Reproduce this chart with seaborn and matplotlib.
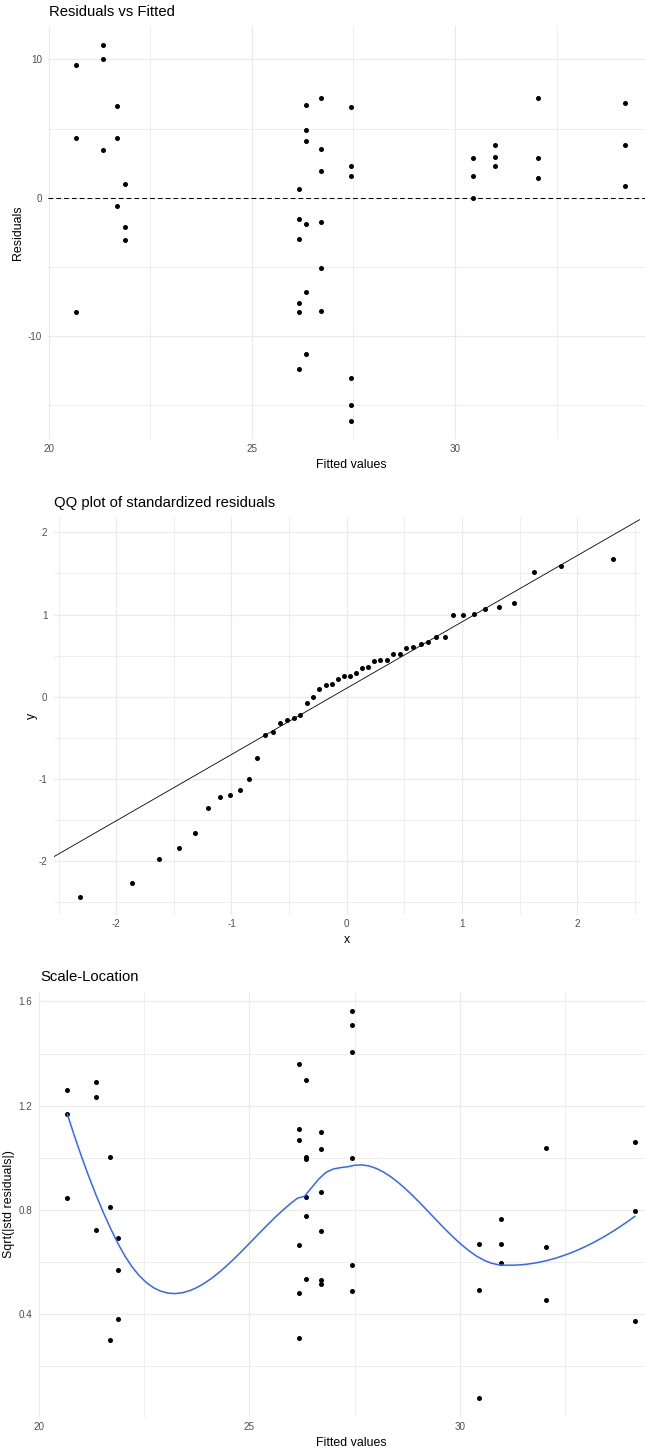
import numpy as np
import pandas as pd
import matplotlib
matplotlib.use("Agg")
import matplotlib.pyplot as plt
import seaborn as sns
from statistics import NormalDist

# ---------------- data ----------------
fitted = [20.67, 20.67, 20.67,
          21.35, 21.35, 21.35,
          21.69, 21.69, 21.69,
          21.87, 21.87, 21.87,
          26.17, 26.17, 26.17, 26.17, 26.17, 26.17,
          26.34, 26.34, 26.34, 26.34, 26.34, 26.34,
          26.71, 26.71, 26.71, 26.71, 26.71, 26.71,
          27.43, 27.43, 27.43, 27.43, 27.43, 27.43,
          30.45, 30.45, 30.45,
          30.98, 30.98, 30.98,
          32.05, 32.05, 32.05,
          34.17, 34.17, 34.17]

residuals = [9.62, 4.34, -8.26,
             11.06, 10.05, 3.45,
             6.63, 4.34, -0.60,
             0.97, -2.10, -3.08,
             0.65, -1.54, -2.96, -7.64, -8.26, -12.36,
             6.68, 4.90, 4.08, -1.90, -6.84, -11.30,
             7.19, 3.52, 1.91, -1.78, -5.08, -8.19,
             6.56, 2.27, 1.59, -13.02, -15.01, -16.12,
             2.89, 1.59, -0.05,
             3.83, 2.94, 2.31,
             7.19, 2.89, 1.40,
             6.82, 3.83, 0.82]

sqrt_std_resid = [1.259, 0.844, 1.166,
                  1.290, 1.233, 0.721,
                  1.003, 0.809, 0.300,
                  0.380, 0.567, 0.691,
                  0.309, 0.479, 0.663, 1.068, 1.109, 1.358,
                  0.995, 0.848, 0.775, 0.534, 1.003, 1.297,
                  1.032, 0.718, 0.530, 0.515, 0.868, 1.098,
                  0.997, 0.589, 0.489, 1.405, 1.508, 1.562,
                  0.667, 0.493, 0.078,
                  0.765, 0.667, 0.595,
                  1.038, 0.657, 0.452,
                  1.061, 0.796, 0.372]

qq_sample = [-2.43, -2.27, -1.97, -1.84, -1.66, -1.35, -1.22, -1.20, -1.13, -1.00,
             -0.75, -0.47, -0.43, -0.32, -0.28, -0.26, -0.22, -0.08, 0.00, 0.10,
             0.14, 0.15, 0.21, 0.25, 0.25, 0.29, 0.35, 0.36, 0.44, 0.45,
             0.45, 0.52, 0.52, 0.59, 0.60, 0.64, 0.67, 0.73, 0.73, 0.99,
             1.00, 1.01, 1.07, 1.09, 1.14, 1.52, 1.59, 1.67]

fitted_ticks = [20, 25, 30]
resid_ticks = [-10, 0, 10]
qq_ticks = [-2, -1, 0, 1, 2]
scale_ticks = [0.4, 0.8, 1.2, 1.6]

titles = ["Residuals vs Fitted", "QQ plot of standardized residuals", "Scale-Location"]

# ---------------- style ----------------
sns.set_theme(style="white")
plt.rcParams["font.family"] = ["Liberation Sans", "DejaVu Sans"]

W, H = 645, 1454
fig = plt.figure(figsize=(W / 100, H / 100), dpi=100)
fig.patch.set_facecolor("white")

GRID = "#EBEBEB"
TICKC = "#4D4D4D"
TICK_FS = 7.1
LAB_FS = 8.9
TITLE_FS = 10.7


def expand(lo, hi, f=0.05):
    r = hi - lo
    return lo - f * r, hi + f * r


def add_axes_px(left, top, width, bottom):
    return fig.add_axes([left / W, 1 - bottom / H, width / W, (bottom - top) / H])


def style_axes(ax, xmajor, ymajor, xminor, yminor, xlabels, ylabels):
    for s in ax.spines.values():
        s.set_visible(False)
    ax.set_facecolor("white")
    ax.set_xticks(xmajor)
    ax.set_yticks(ymajor)
    ax.set_xticks(xminor, minor=True)
    ax.set_yticks(yminor, minor=True)
    ax.set_xticklabels(xlabels)
    ax.set_yticklabels(ylabels)
    ax.grid(True, which="major", color=GRID, lw=0.9, zorder=0)
    ax.grid(True, which="minor", color=GRID, lw=0.6, zorder=0)
    ax.set_axisbelow(True)
    ax.tick_params(which="both", length=0, labelsize=TICK_FS, labelcolor=TICKC)
    ax.tick_params(axis="y", pad=4.6)
    ax.tick_params(axis="x", pad=3.2)


def minors(major, lo, hi):
    step = major[1] - major[0]
    m = np.arange(major[0] - step / 2 - 10 * step, major[-1] + 10 * step, step)
    return [v for v in m if lo <= v <= hi]


def fmt(v):
    return "%g" % v


fx = np.array(fitted)
rs = np.array(residuals)
ss = np.array(sqrt_std_resid)
qs = np.array(qq_sample)

# ---------------- panel 1: residuals vs fitted ----------------
ax1 = add_axes_px(48.3, 25.9, 603.7, 439.4)
df1 = pd.DataFrame({"Fitted values": fx, "Residuals": rs})
ax1.axhline(0, color="black", lw=0.75, ls=(0, (4.5, 3)), zorder=2)
sns.scatterplot(data=df1, x="Fitted values", y="Residuals", ax=ax1, color="black",
                s=13, linewidth=0, zorder=3)
xl1 = expand(fx.min(), fx.max())
yl1 = expand(rs.min(), rs.max())
ax1.set_xlim(xl1)
ax1.set_ylim(yl1)
style_axes(ax1, fitted_ticks, resid_ticks, minors(fitted_ticks, *xl1), minors(resid_ticks, *yl1),
           [fmt(v) for v in fitted_ticks], [fmt(v) for v in resid_ticks])
ax1.set_xlabel("Fitted values", fontsize=LAB_FS, color="black")
ax1.set_ylabel("Residuals", fontsize=LAB_FS, color="black")
ax1.xaxis.set_label_coords((351 - 48.3) / 603.7, -(465 - 439.4) / 413.5)
ax1.xaxis.label.set_va("center")
ax1.yaxis.set_label_coords(-(48.3 - 18.3) / 603.7, 0.5)
ax1.yaxis.label.set_va("center")
fig.text(48.7 / W, 1 - 12.0 / H, titles[0], fontsize=TITLE_FS, ha="left", va="center", color="black")

# ---------------- panel 2: QQ plot ----------------
n = len(qs)
nd = NormalDist()
theo = np.array([nd.inv_cdf((i - 0.5) / n) for i in range(1, n + 1)])
q1s, q3s = np.quantile(qs, [0.25, 0.75])
q1t, q3t = nd.inv_cdf(0.25), nd.inv_cdf(0.75)
slope = (q3s - q1s) / (q3t - q1t)
intercept = q1s - slope * q1t

ax2 = add_axes_px(53.7, 516.9, 586.0, 914.7)
df2 = pd.DataFrame({"x": theo, "y": np.sort(qs)})
sns.scatterplot(data=df2, x="x", y="y", ax=ax2, color="black", s=13, linewidth=0, zorder=3)
xl2 = expand(theo.min(), theo.max())
line_y = intercept + slope * np.array([theo.min(), theo.max()])
yl2 = expand(min(qs.min(), line_y.min()), max(qs.max(), line_y.max()))
ax2.axline((0, intercept), slope=slope, color="black", lw=0.6, zorder=2)
ax2.set_xlim(xl2)
ax2.set_ylim(yl2)
style_axes(ax2, qq_ticks, qq_ticks, minors(qq_ticks, *xl2), minors(qq_ticks, *yl2),
           [fmt(v) for v in qq_ticks], [fmt(v) for v in qq_ticks])
ax2.set_xlabel("x", fontsize=LAB_FS, color="black")
ax2.set_ylabel("y", fontsize=LAB_FS, color="black")
ax2.xaxis.set_label_coords(0.5, -(940 - 914.7) / 397.8)
ax2.xaxis.label.set_va("center")
ax2.yaxis.set_label_coords(-(53.7 - 32.3) / 586.0, 0.5)
ax2.yaxis.label.set_va("center")
fig.text(54 / W, 1 - 503.3 / H, titles[1], fontsize=TITLE_FS, ha="left", va="center", color="black")


# ---------------- panel 3: scale-location (loess, kd-tree + Hermite interpolation) ----------------
def local_fit(x, y, x0, q):
    nn = len(x)
    d = np.abs(x - x0)
    h = np.sort(d)[q - 1]
    w = np.clip(1 - (d / h) ** 3, 0, None) ** 3
    X = np.vstack([np.ones(nn), x - x0, (x - x0) ** 2]).T
    sw = np.sqrt(w)
    beta = np.linalg.lstsq(X * sw[:, None], y * sw, rcond=None)[0]
    return beta[0], beta[1]


def loess_curve(x, y, xs_eval, span=0.75, cell=0.2):
    xs = np.sort(x)
    nn = len(xs)
    q = int(np.floor(nn * span))
    fc = int(np.floor(nn * span * cell))
    mu = 0.005 * (xs[-1] - xs[0])
    verts = {xs[0] - mu, xs[-1] + mu}

    def split(l, u, vlo, vhi):
        if u - l + 1 <= fc:
            return
        m = (l + 1 + u + 1) // 2 - 1
        off = 0
        while True:
            mo = m + off
            if mo >= u or mo < l:
                break
            if xs[mo] == xs[mo + 1]:
                off = -off
                if off >= 0:
                    off += 1
                continue
            m = mo
            break
        t = xs[m]
        if t == vlo or t == vhi:
            return
        verts.add(t)
        split(l, m, vlo, t)
        split(m + 1, u, t, vhi)

    split(0, nn - 1, xs[0] - mu, xs[-1] + mu)
    v = np.array(sorted(verts))
    fv = np.array([local_fit(x, y, vv, q) for vv in v])
    out = []
    for x0 in xs_eval:
        i = min(max(np.searchsorted(v, x0) - 1, 0), len(v) - 2)
        h = v[i + 1] - v[i]
        t = (x0 - v[i]) / h
        h00 = 2 * t ** 3 - 3 * t ** 2 + 1
        h10 = t ** 3 - 2 * t ** 2 + t
        h01 = -2 * t ** 3 + 3 * t ** 2
        h11 = t ** 3 - t ** 2
        out.append(h00 * fv[i, 0] + h10 * h * fv[i, 1] + h01 * fv[i + 1, 0] + h11 * h * fv[i + 1, 1])
    return np.array(out)


grid_x = np.linspace(fx.min(), fx.max(), 80)
smooth_y = loess_curve(fx, ss, grid_x)

ax3 = add_axes_px(38.9, 992.0, 624.5, 1417.1)
df3 = pd.DataFrame({"Fitted values": fx, "Sqrt(|std residuals|)": ss})
sns.scatterplot(data=df3, x="Fitted values", y="Sqrt(|std residuals|)", ax=ax3, color="black",
                s=13, linewidth=0, zorder=3)
sns.lineplot(x=grid_x, y=smooth_y, ax=ax3, color="#3366FF", lw=1.1, estimator=None, sort=False, zorder=4)
xl3 = expand(fx.min(), fx.max())
yl3 = expand(ss.min(), ss.max())
ax3.set_xlim(xl3)
ax3.set_ylim(yl3)
style_axes(ax3, fitted_ticks, scale_ticks, minors(fitted_ticks, *xl3), minors(scale_ticks, *yl3),
           [fmt(v) for v in fitted_ticks], ["%.1f" % v for v in scale_ticks])
ax3.set_xlabel("Fitted values", fontsize=LAB_FS, color="black")
ax3.set_ylabel("Sqrt(|std residuals|)", fontsize=LAB_FS, color="black")
ax3.xaxis.set_label_coords((351 - 38.9) / 624.5, -(1443 - 1417.1) / 425.1)
ax3.xaxis.label.set_va("center")
ax3.yaxis.set_label_coords(-(38.9 - 9.5) / 624.5, 0.5)
ax3.yaxis.label.set_va("center")
fig.text(40 / W, 1 - 976.7 / H, titles[2], fontsize=TITLE_FS, ha="left", va="center", color="black")

fig.savefig("out.png", dpi=100, facecolor="white")
